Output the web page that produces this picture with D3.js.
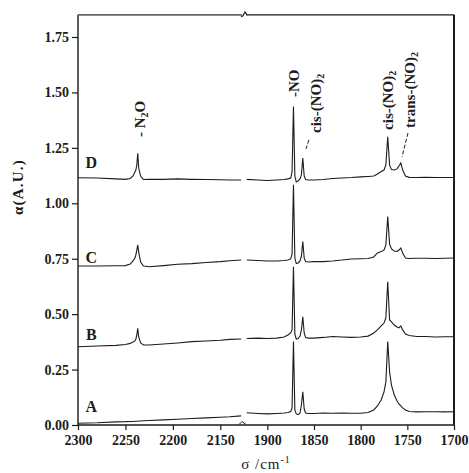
<!DOCTYPE html>
<html><head><meta charset="utf-8">
<script src="https://cdn.jsdelivr.net/npm/d3@7/dist/d3.min.js"></script>
<style>html,body{margin:0;padding:0;background:#fff;}svg{display:block;}</style>
</head><body>
<svg id="chart" width="469" height="473"></svg>
<script>
// ---- data ----
const seriesNames = ["A", "B", "C", "D"];
const wnLeft = [2300, 2280, 2260, 2250, 2245, 2242, 2240, 2239, 2238, 2237, 2236, 2234, 2231, 2225, 2210, 2195, 2180, 2165, 2150, 2140, 2128];
const wnRight = [1922, 1910, 1900, 1890, 1882, 1878, 1875, 1873.5, 1872, 1870.5, 1869, 1867, 1865, 1863.5, 1862, 1860.5, 1859, 1856, 1850, 1840, 1830, 1820, 1810, 1800, 1792, 1786, 1782, 1778, 1775, 1773, 1771, 1769, 1767, 1764, 1761, 1759, 1757, 1755, 1752, 1748, 1740, 1730, 1720, 1710, 1700];

const A_left = [0.008, 0.010, 0.014, 0.015, 0.016, 0.016, 0.017, 0.017, 0.017, 0.017, 0.018, 0.018, 0.019, 0.020, 0.023, 0.026, 0.029, 0.032, 0.035, 0.037, 0.041];
const B_left = [0.353, 0.356, 0.359, 0.363, 0.368, 0.374, 0.379, 0.388, 0.406, 0.436, 0.397, 0.370, 0.361, 0.361, 0.365, 0.370, 0.376, 0.379, 0.382, 0.386, 0.388];
const C_left = [0.717, 0.717, 0.718, 0.719, 0.726, 0.740, 0.753, 0.767, 0.789, 0.812, 0.780, 0.735, 0.717, 0.714, 0.719, 0.725, 0.728, 0.733, 0.737, 0.741, 0.744];
const D_left = [1.115, 1.114, 1.110, 1.108, 1.112, 1.123, 1.141, 1.150, 1.173, 1.226, 1.159, 1.123, 1.107, 1.108, 1.108, 1.110, 1.108, 1.107, 1.106, 1.105, 1.105];

const A_right = [0.055, 0.052, 0.050, 0.052, 0.054, 0.056, 0.061, 0.077, 0.376, 0.068, 0.050, 0.047, 0.054, 0.090, 0.150, 0.072, 0.054, 0.052, 0.052, 0.054, 0.053, 0.054, 0.053, 0.053, 0.056, 0.068, 0.086, 0.113, 0.149, 0.194, 0.376, 0.239, 0.180, 0.135, 0.108, 0.095, 0.086, 0.077, 0.068, 0.061, 0.059, 0.060, 0.060, 0.059, 0.060];
const B_right = [0.390, 0.392, 0.390, 0.392, 0.397, 0.406, 0.415, 0.429, 0.714, 0.410, 0.388, 0.390, 0.401, 0.429, 0.488, 0.415, 0.395, 0.392, 0.392, 0.395, 0.399, 0.397, 0.395, 0.397, 0.401, 0.415, 0.429, 0.447, 0.460, 0.483, 0.646, 0.474, 0.465, 0.451, 0.442, 0.438, 0.447, 0.429, 0.410, 0.404, 0.399, 0.399, 0.397, 0.398, 0.398];
const C_right = [0.744, 0.742, 0.740, 0.740, 0.742, 0.744, 0.749, 0.771, 1.083, 0.753, 0.728, 0.731, 0.740, 0.762, 0.827, 0.753, 0.737, 0.735, 0.737, 0.737, 0.740, 0.744, 0.749, 0.750, 0.751, 0.758, 0.776, 0.782, 0.789, 0.812, 0.940, 0.816, 0.794, 0.785, 0.783, 0.789, 0.798, 0.776, 0.753, 0.751, 0.752, 0.752, 0.751, 0.752, 0.753];
const D_right = [1.108, 1.105, 1.103, 1.105, 1.107, 1.110, 1.114, 1.141, 1.436, 1.123, 1.096, 1.101, 1.110, 1.128, 1.204, 1.123, 1.107, 1.105, 1.105, 1.107, 1.112, 1.114, 1.116, 1.119, 1.121, 1.123, 1.132, 1.143, 1.150, 1.173, 1.300, 1.173, 1.152, 1.150, 1.155, 1.168, 1.182, 1.150, 1.123, 1.117, 1.116, 1.117, 1.116, 1.116, 1.116];

const leftValues = [A_left, B_left, C_left, D_left];
const rightValues = [A_right, B_right, C_right, D_right];
const seriesLabelValue = [0.06, 0.385, 0.73, 1.16];

const yTicks = [0, 0.25, 0.5, 0.75, 1.0, 1.25, 1.5, 1.75];
const xTicksLeft = [2300, 2250, 2200, 2150];
const xTicksRight = [1900, 1850, 1800, 1750, 1700];

// annotations: text parts [text, isSubscript], anchor wavenumber & bottom value
const peakLabels = [
  {parts: [["- N", 0], ["2", 1], ["O", 0]], wn: 2235, v: 1.299},
  {parts: [["-NO", 0]], wn: 1872, v: 1.479},
  {parts: [["cis-(NO)", 0], ["2", 1]], wn: 1848, v: 1.317},
  {parts: [["cis-(NO)", 0], ["2", 1]], wn: 1771, v: 1.331},
  {parts: [["trans-(NO)", 0], ["2", 1]], wn: 1747, v: 1.340}
];
const leaders = [
  {from: [1855.4, 1.286], to: [1858.6, 1.245]},
  {from: [1749.3, 1.317], to: [1755.7, 1.209]}
];

// ---- chart ----
const svg = d3.select("#chart");
const font = "'Liberation Serif', 'Times New Roman', serif";
const xLeft = d3.scaleLinear().domain([2300, 2125]).range([78, 244]);
const xRight = d3.scaleLinear().domain([1925, 1700]).range([244, 454]);
const y = d3.scaleLinear().domain([0, 1.75]).range([425, 37]);
const yTop = y(1.85), yBot = y(0);
const xL = xLeft.range()[0], xR = xRight.range()[1], xB = xLeft(2125);

// spectra
const ink = "#1c1c1c";
seriesNames.forEach((name, i) => {
  const lineL = d3.line().x((d, j) => xLeft(wnLeft[j])).y(d => y(d));
  const lineR = d3.line().x((d, j) => xRight(wnRight[j])).y(d => y(d));
  svg.append("path").attr("d", lineL(leftValues[i])).attr("fill", "none").attr("stroke", ink).attr("stroke-width", 1.1);
  svg.append("path").attr("d", lineR(rightValues[i])).attr("fill", "none").attr("stroke", ink).attr("stroke-width", 1.1);
  svg.append("text").attr("x", xLeft(2286)).attr("y", y(seriesLabelValue[i]))
    .attr("text-anchor", "middle").attr("font-family", font).attr("font-weight", "bold")
    .attr("font-size", 16).attr("fill", ink).text(name);
});

// frame
const frame = svg.append("g").attr("fill", "none").attr("stroke", ink);
frame.append("path").attr("d", `M${xL},${yTop}V${yBot}H${xR}`).attr("stroke-width", 1.4);
frame.append("path").attr("d", `M${xR},${yTop}V${yBot}`).attr("stroke-width", 2);
frame.append("path").attr("d", `M${xL},${yTop}H${xB - 2}`).attr("stroke-width", 1.6).attr("stroke", "#666");
frame.append("path").attr("d", `M${xB + 2},${yTop}H${xR}`).attr("stroke-width", 1.4);
// break marks
frame.append("path").attr("d", `M${xB - 3},${yTop + 2}L${xB - 1},${yTop + 1}L${xB + 1},${yTop - 3}L${xB + 3},${yTop}`).attr("stroke-width", 1.2);
frame.append("path").attr("d", `M${xB - 5},${yBot}L${xB - 2},${yBot - 3}L${xB + 1},${yBot - 1}L${xB + 4},${yBot}`).attr("stroke-width", 1.1).attr("stroke", "#fff").attr("stroke-width", 0);
frame.append("path").attr("d", `M${xB - 5},${yBot - 0.5}L${xB - 2},${yBot - 3.5}L${xB + 2},${yBot - 0.5}`).attr("stroke-width", 1);

// axes
function styleAxis(g) {
  g.select(".domain").remove();
  g.selectAll("line").attr("stroke", ink).attr("stroke-width", 1.2);
  g.selectAll("text").attr("font-family", font).attr("font-weight", "bold").attr("font-size", 14).attr("fill", ink);
}
svg.append("g").attr("transform", `translate(${xL},0)`)
  .call(d3.axisLeft(y).tickValues(yTicks).tickFormat(d3.format(".2f")).tickSize(6).tickPadding(3))
  .call(styleAxis);
svg.append("g").attr("transform", `translate(0,${yBot})`)
  .call(d3.axisBottom(xLeft).tickValues(xTicksLeft).tickFormat(d3.format("d")).tickSize(5).tickPadding(5))
  .call(styleAxis);
svg.append("g").attr("transform", `translate(0,${yBot})`)
  .call(d3.axisBottom(xRight).tickValues(xTicksRight).tickFormat(d3.format("d")).tickSize(5).tickPadding(5))
  .call(styleAxis);

// axis titles
const yt = svg.append("text").attr("transform", `translate(18,187) rotate(-90)`)
  .attr("text-anchor", "middle").attr("dy", "0.35em").attr("font-family", font).attr("font-weight", "bold")
  .attr("font-size", 15).attr("letter-spacing", 1.2).attr("fill", ink).text("α(A.U.)");
const xt = svg.append("text").attr("x", 266).attr("y", 469).attr("text-anchor", "middle")
  .attr("font-family", font).attr("font-size", 15).attr("letter-spacing", 1).attr("fill", ink);
xt.append("tspan").text("σ /cm");
xt.append("tspan").attr("dy", -6).attr("font-size", 10).text("-1");

// peak labels
function xOf(wn) { return wn >= 2125 ? xLeft(wn) : xRight(wn); }
peakLabels.forEach(p => {
  const t = svg.append("text").attr("transform", `translate(${xOf(p.wn)},${y(p.v)}) rotate(-90)`)
    .attr("dy", "0.35em").attr("font-family", font).attr("font-weight", "bold")
    .attr("font-size", 15).attr("fill", ink);
  let shifted = false;
  p.parts.forEach(([s, sub]) => {
    const ts = t.append("tspan").text(s);
    if (sub) { ts.attr("font-size", 10).attr("dy", 3); shifted = true; }
    else if (shifted) { ts.attr("dy", -3); shifted = false; }
  });
});
leaders.forEach(l => {
  svg.append("line").attr("x1", xOf(l.from[0])).attr("y1", y(l.from[1]))
    .attr("x2", xOf(l.to[0])).attr("y2", y(l.to[1]))
    .attr("stroke", ink).attr("stroke-width", 1).attr("stroke-dasharray", "4,2");
});
</script>
</body></html>
